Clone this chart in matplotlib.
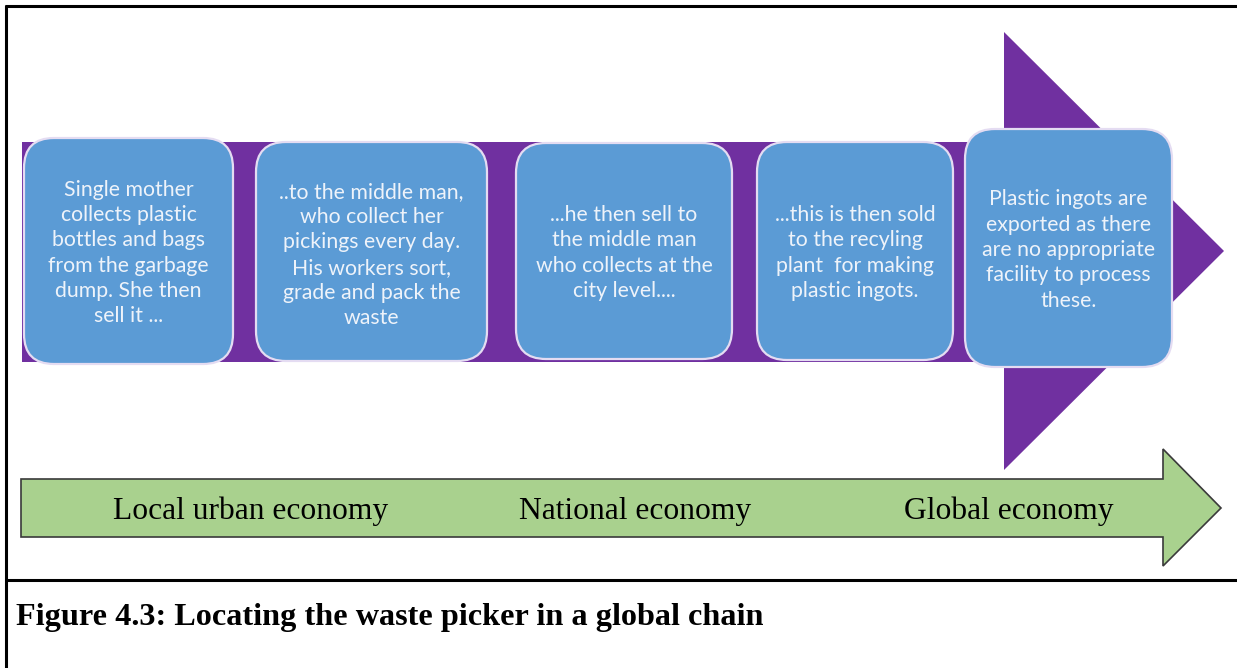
#!/usr/bin/env python3
"""Redraw figure 4.3: the waste picker's place in a global recycling chain."""

import matplotlib

matplotlib.use("Agg")
import matplotlib.pyplot as plt
from matplotlib.patches import FancyBboxPatch, Polygon

# chain steps, left to right
steps = [
    "Single mother\ncollects plastic\nbottles and bags\nfrom the garbage\ndump. She then\nsell it ...",
    "..to the middle man,\nwho collect her\npickings every day.\nHis workers sort,\ngrade and pack the\nwaste",
    "...he then sell to\nthe middle man\nwho collects at the\ncity level....",
    "...this is then sold\nto the recyling\nplant  for making\nplastic ingots.",
    "Plastic ingots are\nexported as there\nare no appropriate\nfacility to process\nthese.",
]
economy_levels = ["Local urban economy", "National economy", "Global economy"]
caption = "Figure 4.3: Locating the waste picker in a global chain"

# layout, in pixels of the 1237x668 page
W, H = 1237, 668
box_x = [(24, 233), (256, 487), (516, 732), (757, 953), (965, 1172)]
box_y = [(138, 364), (142, 361), (143, 359), (142, 360), (129, 367)]
text_y = [253, 255, 253, 253, 250]
level_x = [251, 635, 1009]

PURPLE = "#7030a0"
BLUE = "#5b9bd5"
GREEN = "#a9d18e"

fig = plt.figure(figsize=(W / 100, H / 100), dpi=100)
ax = fig.add_axes([0, 0, 1, 1])
ax.set_xlim(0, W)
ax.set_ylim(H, 0)
ax.axis("off")

# big purple arrow behind the boxes
ax.add_patch(Polygon(
    [(22, 142), (1004, 142), (1004, 32), (1224, 251), (1004, 470), (1004, 362), (22, 362)],
    closed=True, facecolor=PURPLE, edgecolor="none", zorder=1,
))

for text, (x0, x1), (y0, y1), ty in zip(steps, box_x, box_y, text_y):
    ax.add_patch(FancyBboxPatch(
        (x0, y0), x1 - x0, y1 - y0,
        boxstyle="round,pad=0,rounding_size=30",
        facecolor=BLUE, edgecolor="#e4dcf2", linewidth=1.6, zorder=2,
    ))
    ax.text((x0 + x1) / 2, ty, text, ha="center", va="center", color="#eef3fa",
            fontsize=15.3, family="Lato", linespacing=1.33, zorder=3)

# green economy arrow
ax.add_patch(Polygon(
    [(21, 479), (1163, 479), (1163, 449), (1221, 508), (1163, 566), (1163, 537), (21, 537)],
    closed=True, facecolor=GREEN, edgecolor="#3a3a3a", linewidth=1.2, zorder=1,
))
for label, x in zip(economy_levels, level_x):
    ax.text(x, 519, label, ha="center", va="baseline", fontsize=22.7,
            family="Liberation Serif", color="black")

# page frame and caption
ax.plot([5, W], [6, 6], color="black", lw=2.2, solid_capstyle="butt")
ax.plot([6, 6], [5, H], color="black", lw=2.2, solid_capstyle="butt")
ax.plot([5, W], [580, 580], color="black", lw=2.2, solid_capstyle="butt")
ax.text(16, 625, caption, ha="left", va="baseline", fontsize=23.2,
        family="Liberation Serif", fontweight="bold", color="black")

fig.savefig("out.png", dpi=100)
